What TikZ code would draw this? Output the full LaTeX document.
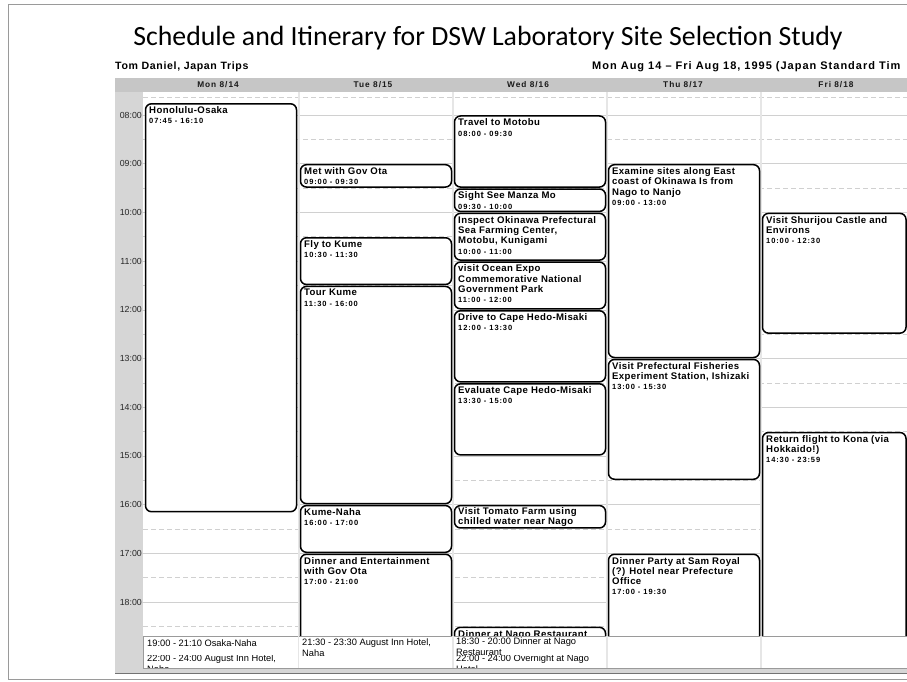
\documentclass[tikz,border=0pt]{standalone}
\usepackage{fontspec}
\setmainfont{Liberation Sans}
\newfontfamily\titlefont{Carlito}
\newfontfamily\lsA[LetterSpace=4]{Liberation Sans}
\newfontfamily\lsB[LetterSpace=12]{Liberation Sans}
\newfontfamily\lsC[LetterSpace=6]{Liberation Sans}
\newfontfamily\lsD[LetterSpace=9]{Liberation Sans}
\newfontfamily\lsE[LetterSpace=12]{Liberation Sans}
\newcommand\evtitle{\lsA\bfseries\fontsize{9.6}{10.3}\selectfont}
\newcommand\evtime{\lsB\bfseries\fontsize{7.5}{10}\selectfont}
\definecolor{framegray}{HTML}{D6D6D6}
\definecolor{headgray}{HTML}{C6C6C6}
\definecolor{gridgray}{HTML}{D0D0D0}
\definecolor{colgray}{HTML}{E6E6E6}
\definecolor{bordgray}{HTML}{9A9A9A}
\def\evw{151}
\newcommand\evbox[6]{%
  \draw[evframe] (#2,#3+1) rectangle (#2+\evw,#4-1);
  \node[evtext] (#1) at (#2+3.5,#3+3.6) {#5\\{\evtime #6}};
}
\begin{document}
\begin{tikzpicture}[x=1pt,y=-1pt,
  evframe/.style={draw=black,line width=1.5pt,rounded corners=6pt,fill=white},
  evtext/.style={anchor=north west,inner sep=0pt,align=left,font=\evtitle},
  hourline/.style={draw=gridgray,line width=0.6pt},
  halfline/.style={draw=gridgray,line width=0.6pt,dash pattern=on 5pt off 3pt},
  tlabel/.style={anchor=east,inner sep=0pt,font=\fontsize{8.8}{10}\selectfont,text=black!85},
  daylabel/.style={inner sep=0pt,font=\lsE\bfseries\fontsize{8.3}{9}\selectfont,text=black!90},
  adtext/.style={anchor=north west,inner sep=0pt,align=left,font=\fontsize{9.3}{10.8}\selectfont}]
\useasboundingbox (0,0) rectangle (907,682);
\clip (0,0) rectangle (907,682);
\fill[white] (0,0) rectangle (907,682);
\draw[bordgray,line width=0.8pt] (8,4) rectangle (940,679);
% title
\node[inner sep=0pt,font=\titlefont\fontsize{27.8}{32}\selectfont] (title) at (488,38)
  {Schedule and Itinerary for DSW Laboratory Site Selection Study};
\node[anchor=west,inner sep=0pt,font=\lsC\bfseries\fontsize{10.6}{12}\selectfont] (who) at (115,67) {Tom Daniel, Japan Trips};
\node[anchor=west,inner sep=0pt,font=\lsD\bfseries\fontsize{11}{12}\selectfont] (dates) at (592,67) {Mon Aug 14 – Fri Aug 18, 1995 (Japan Standard Tim};
% frame
\fill[framegray] (115,78) rectangle (940,673);
\draw[black!55,line width=0.8pt] (115,673) -- (940,673);
\fill[headgray] (115,78) rectangle (940,92);
\fill[white] (143,92) rectangle (940,668);
% grid lines
\foreach \h in {8,...,18} \draw[hourline] (143,{115+(\h-8)*48.7}) -- (940,{115+(\h-8)*48.7});
\draw[halfline] (143,97) -- (940,97);
\foreach \h in {8,...,18} \draw[halfline] (143,{115+(\h-7.5)*48.7}) -- (940,{115+(\h-7.5)*48.7});
\foreach \x in {298.5,453,607,761} \draw[colgray,line width=2pt] (\x,92) -- (\x,668);
\foreach \y in {115,163.7,212.4,261.1,309.8,358.5,407.2,455.9,504.6,553.3,602}
  \draw[gridgray,line width=0.6pt] (139,\y) -- (143,\y);
% time labels
\node[tlabel] (t8) at (142,115) {08:00};
\node[tlabel] (t9) at (142,163.7) {09:00};
\node[tlabel] (t10) at (142,212.4) {10:00};
\node[tlabel] (t11) at (142,261.1) {11:00};
\node[tlabel] (t12) at (142,309.8) {12:00};
\node[tlabel] (t13) at (142,358.5) {13:00};
\node[tlabel] (t14) at (142,407.2) {14:00};
\node[tlabel] (t15) at (142,455.9) {15:00};
\node[tlabel] (t16) at (142,504.6) {16:00};
\node[tlabel] (t17) at (142,553.3) {17:00};
\node[tlabel] (t18) at (142,602) {18:00};
% day labels
\node[daylabel] (dmon) at (218,85) {Mon 8/14};
\node[daylabel] (dtue) at (373,85) {Tue 8/15};
\node[daylabel] (dwed) at (528,85) {Wed 8/16};
\node[daylabel] (dthu) at (683,85) {Thu 8/17};
\node[daylabel] (dfri) at (836,85) {Fri 8/18};
\begin{scope}
\clip (143,92) rectangle (940,668);
% events: Mon
\evbox{mon1}{145.5}{102.8}{512.7}{Honolulu-Osaka}{07:45 - 16:10}
% Tue
\evbox{tue1}{300.5}{163.7}{188.05}{Met with Gov Ota}{09:00 - 09:30}
\evbox{tue2}{300.5}{236.75}{285.45}{Fly to Kume}{10:30 - 11:30}
\evbox{tue3}{300.5}{285.45}{504.6}{Tour Kume}{11:30 - 16:00}
\evbox{tue4}{300.5}{504.6}{553.3}{Kume-Naha}{16:00 - 17:00}
\evbox{tue5}{300.5}{553.3}{760}{Dinner and Entertainment\\with Gov Ota}{17:00 - 21:00}
% Wed
\evbox{wed1}{454.5}{115}{188.05}{Travel to Motobu}{08:00 - 09:30}
\evbox{wed2}{454.5}{188.05}{212.4}{Sight See Manza Mo}{09:30 - 10:00}
\evbox{wed3}{454.5}{212.4}{261.1}{Inspect Okinawa Prefectural\\Sea Farming Center,\\Motobu, Kunigami}{10:00 - 11:00}
\evbox{wed4}{454.5}{261.1}{309.8}{visit Ocean Expo\\Commemorative National\\Government Park}{11:00 - 12:00}
\evbox{wed5}{454.5}{309.8}{382.85}{Drive to Cape Hedo-Misaki}{12:00 - 13:30}
\evbox{wed6}{454.5}{382.85}{455.9}{Evaluate Cape Hedo-Misaki}{13:30 - 15:00}
\draw[evframe] (454.5,505.6) rectangle (605.5,527.95);
\node[evtext] (wed7) at (458,507.4) {Visit Tomato Farm using\\chilled water near Nago};
\evbox{wed8}{454.5}{626.35}{760}{Dinner at Nago Restaurant}{18:30 - 20:00}
% Thu
\evbox{thu1}{608.5}{163.7}{358.5}{Examine sites along East\\coast of Okinawa Is from\\Nago to Nanjo}{09:00 - 13:00}
\evbox{thu2}{608.5}{358.5}{480.25}{Visit Prefectural Fisheries\\Experiment Station, Ishizaki}{13:00 - 15:30}
\evbox{thu3}{608.5}{553.3}{760}{Dinner Party at Sam Royal\\(?) Hotel near Prefecture\\Office}{17:00 - 19:30}
% Fri
\def\evw{143.5}
\evbox{fri1}{762.5}{212.4}{334.15}{Visit Shurijou Castle and\\Environs}{10:00 - 12:30}
\evbox{fri2}{762.5}{431.55}{760}{Return flight to Kona (via\\Hokkaido!)}{14:30 - 23:59}
\end{scope}
% all-day area
\fill[white] (143,636) rectangle (940,668);
\draw[bordgray,line width=0.7pt] (143,636) -- (940,636);
\draw[bordgray,line width=0.7pt] (143.3,636) -- (143.3,668);
\foreach \x in {298.5,453,607,761} \draw[colgray,line width=1.2pt] (\x,636.4) -- (\x,668);
\draw[bordgray,line width=0.9pt] (143,668) -- (940,668);
\begin{scope}
  \clip (143,637) rectangle (940,655.7);
  \node[adtext] (ad1) at (147,639.5) {19:00 - 21:10 Osaka-Naha};
  \node[adtext] (ad4) at (302,638.5) {21:30 - 23:30 August Inn Hotel,\\Naha};
  \node[adtext] (ad6) at (456,638) {18:30 - 20:00 Dinner at Nago\\Restaurant};
\end{scope}
\begin{scope}
  \clip (143,655.7) rectangle (940,667.6);
  \node[adtext] (ad2) at (147,654.5) {22:00 - 24:00 August Inn Hotel,\\Naha};
  \node[adtext] (ad8) at (456,654.5) {22:00 - 24:00 Overnight at Nago\\Hotel};
\end{scope}
\end{tikzpicture}
\end{document}
